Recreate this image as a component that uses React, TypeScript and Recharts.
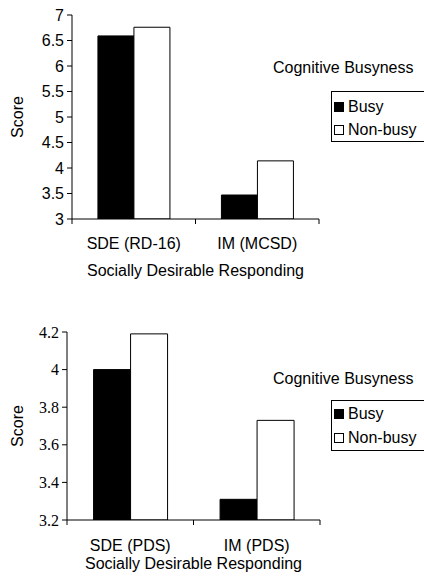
import React from 'react';
import { BarChart, Bar, XAxis, YAxis, Legend } from 'recharts';

const seriesNames = ['Busy', 'Non-busy'];
const seriesFills = ['#000000', '#ffffff'];

const topCategories = ['SDE (RD-16)', 'IM (MCSD)'];
const topBusy = [6.59, 3.47];
const topNonBusy = [6.76, 4.14];
const topTicks = [3, 3.5, 4, 4.5, 5, 5.5, 6, 6.5, 7];

const bottomCategories = ['SDE (PDS)', 'IM (PDS)'];
const bottomBusy = [4.0, 3.31];
const bottomNonBusy = [4.19, 3.73];
const bottomTicks = [3.2, 3.4, 3.6, 3.8, 4, 4.2];

const legendTitle = 'Cognitive Busyness';
const xTitle = 'Socially Desirable Responding';
const yTitle = 'Score';

const sans = 'Arial, "Liberation Sans", sans-serif';
const serif = '"Times New Roman", "Liberation Serif", serif';
const fs = 16;

const CategoryTick = (props: any) => {
  const { x, y, payload, index, visibleTicksCount, labelDy } = props;
  const half = payload?.offset ?? 0;
  const last = index === visibleTicksCount - 1;
  return (
    <g>
      <line x1={x - half} y1={y} x2={x - half} y2={y + 5} stroke="#000" />
      {last && <line x1={x + half} y1={y} x2={x + half} y2={y + 5} stroke="#000" />}
      <text x={x} y={y + labelDy} textAnchor="middle" dominantBaseline="central" fontSize={fs} fontFamily={sans} fill="#000">
        {payload.value}
      </text>
    </g>
  );
};

type LegendOpts = { titleGap: number; rowHeight: number; padTop: number };

const makeLegend = (opts: LegendOpts) => (props: any) => {
  const items = props.payload ?? [];
  return (
    <div style={{ fontFamily: sans, fontSize: fs, color: '#000' }}>
      <div style={{ height: 20, lineHeight: '20px', whiteSpace: 'nowrap' }}>{legendTitle}</div>
      <div
        style={{
          marginLeft: 58,
          marginTop: opts.titleGap,
          border: '1px solid #000',
          borderRight: 'none',
          width: 100,
          paddingTop: opts.padTop,
          paddingLeft: 2,
        }}
      >
        {items.map((it: any) => (
          <div key={it.value} style={{ height: opts.rowHeight, display: 'flex', alignItems: 'center', whiteSpace: 'nowrap' }}>
            <span
              style={{
                display: 'inline-block',
                width: 8,
                height: 8,
                border: '1px solid #000',
                background: it.color,
                marginRight: 4,
              }}
            />
            {it.value}
          </div>
        ))}
      </div>
    </div>
  );
};

type PanelProps = {
  categories: string[];
  busy: number[];
  nonBusy: number[];
  ticks: number[];
  height: number;
  margin: { top: number; right: number; bottom: number; left: number };
  yWidth: number;
  xHeight: number;
  tickDy: number;
  titleOffset: number;
  yFont: string;
  legendTop: number;
  legend: LegendOpts;
};

const Panel: React.FC<PanelProps> = (p) => {
  const data = p.categories.map((c, i) => ({ name: c, busy: p.busy[i], nonBusy: p.nonBusy[i] }));
  return (
    <BarChart width={424} height={p.height} data={data} margin={p.margin} barCategoryGap="21%" barGap={0}>
      <XAxis
        dataKey="name"
        height={p.xHeight}
        axisLine={{ stroke: '#000' }}
        tickLine={false}
        tickSize={0}
        tickMargin={0}
        interval={0}
        tick={<CategoryTick labelDy={p.tickDy} />}
        label={{ value: xTitle, position: 'insideBottom', offset: p.titleOffset, fill: '#000', fontSize: fs, fontFamily: sans }}
      />
      <YAxis
        width={p.yWidth}
        domain={[p.ticks[0], p.ticks[p.ticks.length - 1]]}
        ticks={p.ticks}
        allowDataOverflow
        axisLine={{ stroke: '#000' }}
        tickLine={{ stroke: '#000' }}
        tickSize={5}
        tickMargin={3}
        tick={{ fill: '#000', fontSize: fs, fontFamily: p.yFont }}
        label={{ value: yTitle, angle: -90, position: 'insideLeft', offset: 17, fill: '#000', fontSize: fs, fontFamily: sans, style: { textAnchor: 'middle' } }}
      />
      <Legend
        align="center"
        verticalAlign="middle"
        layout="horizontal"
        wrapperStyle={{ left: 273, top: p.legendTop, width: 160 }}
        content={makeLegend(p.legend)}
      />
      <Bar dataKey="busy" name={seriesNames[0]} fill={seriesFills[0]} stroke="#000" strokeWidth={1} isAnimationActive={false} />
      <Bar dataKey="nonBusy" name={seriesNames[1]} fill={seriesFills[1]} stroke="#000" strokeWidth={1} isAnimationActive={false} />
    </BarChart>
  );
};

export default function App() {
  return (
    <div style={{ position: 'absolute', left: 0, top: 0, width: 424, height: 581, overflow: 'hidden', background: '#fff' }}>
      <Panel
        categories={topCategories}
        busy={topBusy}
        nonBusy={topNonBusy}
        ticks={topTicks}
        height={290}
        margin={{ top: 15, right: 105, bottom: 11, left: 0 }}
        yWidth={72}
        xHeight={60}
        tickDy={24}
        titleOffset={3.5}
        yFont={sans}
        legendTop={58}
        legend={{ titleGap: 13, rowHeight: 23, padTop: 3 }}
      />
      <Panel
        categories={bottomCategories}
        busy={bottomBusy}
        nonBusy={bottomNonBusy}
        ticks={bottomTicks}
        height={291}
        margin={{ top: 42, right: 104, bottom: 0, left: 0 }}
        yWidth={67}
        xHeight={61}
        tickDy={25}
        titleOffset={12.5}
        yFont={serif}
        legendTop={79}
        legend={{ titleGap: 11, rowHeight: 24, padTop: 1 }}
      />
    </div>
  );
}
